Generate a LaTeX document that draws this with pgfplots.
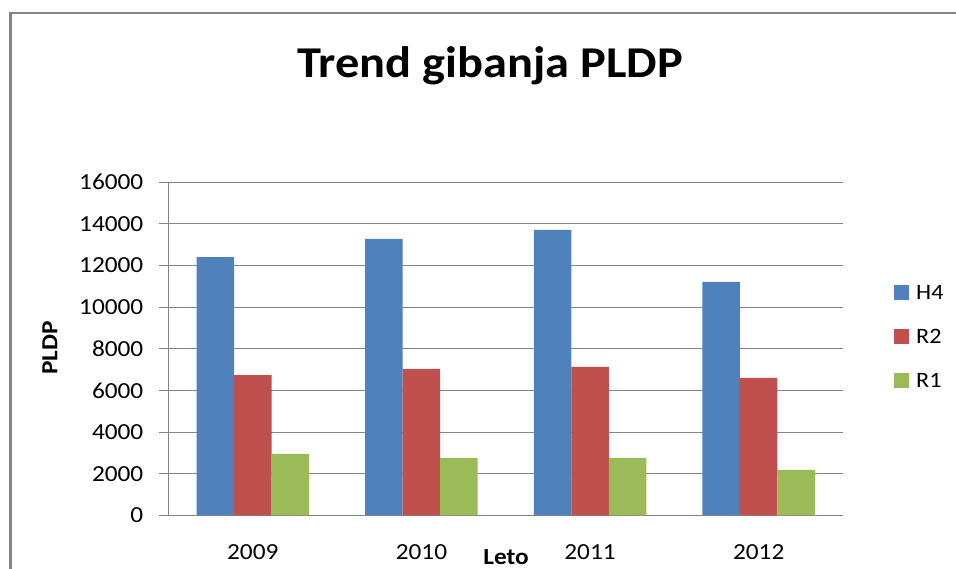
\documentclass[border=0pt]{standalone}
\usepackage{fontspec}
\setmainfont{Carlito}[FakeStretch=1.1]
\usepackage{pgfplots}
\pgfplotsset{compat=1.18}
\definecolor{cH}{HTML}{4F81BD}
\definecolor{cR}{HTML}{C0504D}
\definecolor{cG}{HTML}{9BBB59}
\definecolor{gridc}{HTML}{868686}
\begin{document}
\begin{tikzpicture}[x=1pt,y=1pt]
\useasboundingbox (0,0) rectangle (956,569);
\draw[gridc, line width=2.5pt] (10.5,-5) -- (10.5,556) -- (962,556);
\node[anchor=base, font=\fontsize{44}{50}\selectfont\bfseries, inner sep=0pt] at (490,491) {Trend gibanja PLDP};
\node[anchor=base, font=\fontsize{23}{26}\selectfont\bfseries, inner sep=0pt] at (506,4) {Leto};
\node[rotate=90, anchor=center, font=\fontsize{23}{26}\selectfont\bfseries, inner sep=0pt] at (50,221) {PLDP};
\draw[gridc, line width=1pt] (159,53.7) -- (168.5,53.7);
\begin{axis}[
  at={(168.5pt,53.7pt)}, anchor=south west,
  scale only axis, width=674.5pt, height=333pt,
  ybar=0pt, bar width=37.5pt,
  xmin=-0.5, xmax=3.5, ymin=0, ymax=16000,
  xtick={0,1,2,3}, xticklabels={2009,2010,2011,2012},
  ytick={0,2000,...,16000},
  scaled y ticks=false,
  ymajorgrids, grid style={gridc, line width=1pt},
  axis x line*=bottom, axis y line*=left,
  axis line style={gridc, line width=1pt, -},
  x axis line style={-}, y axis line style={-},
  xtick style={draw=none},
  ytick style={gridc, line width=1pt},
  tick align=outside, major tick length=9pt,
  /pgf/number format/assume math mode=true,
  /pgf/number format/1000 sep={},
  ticklabel style={font=\fontsize{23}{26}\selectfont, inner sep=0pt},
  yticklabel style={anchor=east, xshift=-16pt},
  xticklabel style={anchor=north, yshift=-20pt},
  legend style={draw=none, fill=none, at={(1.0756,0.535)}, anchor=west,
    font=\fontsize{22}{26}\selectfont, row sep=28pt, column sep=7pt,
    inner sep=0pt, nodes={inner sep=0pt}},
  legend cell align=left,
]
\addplot[fill=cH, draw=none, legend image code/.code={\fill[cH] (0pt,-7pt) rectangle (15pt,8pt);}] coordinates {(0,12400) (1,13280) (2,13710) (3,11210)};
\addplot[fill=cR, draw=none, legend image code/.code={\fill[cR] (0pt,-7pt) rectangle (15pt,8pt);}] coordinates {(0,6740) (1,7030) (2,7130) (3,6600)};
\addplot[fill=cG, draw=none, legend image code/.code={\fill[cG] (0pt,-7pt) rectangle (15pt,8pt);}] coordinates {(0,2950) (1,2750) (2,2750) (3,2180)};
\legend{H4,R2,R1}
\end{axis}
\end{tikzpicture}
\end{document}
